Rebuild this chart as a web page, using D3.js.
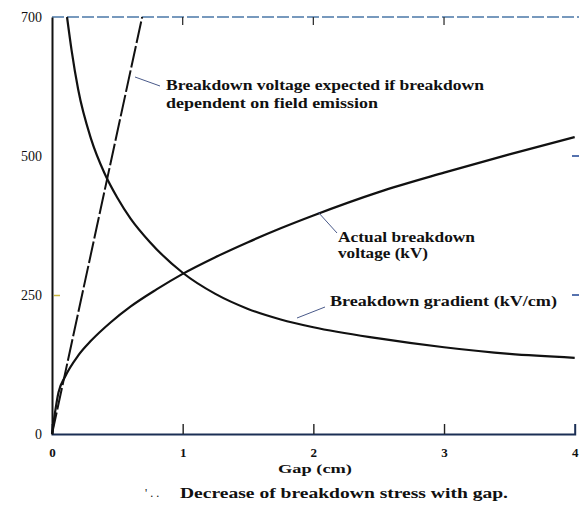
<!DOCTYPE html>
<html>
<head>
<meta charset="utf-8">
<script src="https://cdn.jsdelivr.net/npm/d3@7"></script>
<style>
  body { margin: 0; background: #fff; }
  svg { display: block; }
  text { font-family: "Liberation Serif", "DejaVu Serif", serif; fill: #111; }
</style>
</head>
<body>
<div class="chart"></div>
<script>
// values
const gapTicks = [0, 1, 2, 3, 4]
const yTicks = [0, 250, 500, 750]
const yTickLabels = ["0", "250", "500", "700"]

// actual breakdown voltage (kV) vs gap (cm)
const actualGap = [0, 0.05, 0.1, 0.2, 0.3, 0.45, 0.6, 0.8, 1, 1.25, 1.5, 1.75, 2, 2.5, 3, 3.5, 4]
const actualKV  = [0, 75, 103, 141, 168, 201, 229, 260, 288, 318, 345, 370, 393, 435, 470, 503, 534]

// breakdown gradient (kV/cm) vs gap (cm)
const gradGap = [0.115, 0.15, 0.2, 0.3, 0.4, 0.5, 0.6, 0.75, 1, 1.25, 1.5, 1.75, 2, 2.5, 3, 3.5, 4]
const gradKV  = [750, 690, 620, 530, 470, 425, 388, 345, 290, 252, 225, 206, 192, 172, 156, 144, 137]

// field emission expectation (straight line)
const fieldGap = [0, 0.69]
const fieldKV  = [0, 750]

const showChart = () => {
  let width = 579,
      height = 513

  const svg = d3.select(".chart")
    .append("svg")
    .attr("width", width)
    .attr("height", height)

  const x = d3.scaleLinear().domain([0, 4]).range([52, 574.7])
  const y = d3.scaleLinear().domain([0, 750]).range([434, 17])

  // frame: top (scan-faded dashes) and right with inward ticks
  svg.append("line")
    .attr("x1", x(0)).attr("x2", width)
    .attr("y1", y(750)).attr("y2", y(750))
    .attr("stroke", "#4b78a8").attr("stroke-width", 1.6)
    .attr("stroke-dasharray", "12,3")

  const top = svg.append("g").attr("transform", "translate(0," + y(750) + ")")
  top.selectAll("line")
    .data(gapTicks.slice(1, 4))
    .enter().append("line")
    .attr("x1", d => x(d)).attr("x2", d => x(d))
    .attr("y1", 0).attr("y2", 8)
    .attr("stroke", "#333").attr("stroke-width", 1.3)

  svg.selectAll(".rtick")
    .data([250, 500])
    .enter().append("line")
    .attr("x1", width - 7).attr("x2", width)
    .attr("y1", d => y(d)).attr("y2", d => y(d))
    .attr("stroke", "#2b4f9a").attr("stroke-width", 1.6)

  // bottom axis
  const xAxis = svg.append("g")
    .attr("transform", "translate(0," + y(0) + ")")
    .call(d3.axisBottom(x).tickValues(gapTicks).tickSize(-10).tickPadding(14)
      .tickFormat(d3.format("d")))
  xAxis.select(".domain").attr("stroke", "#1b2f55").attr("stroke-width", 2)
  xAxis.selectAll(".tick line").attr("stroke", "#222").attr("stroke-width", 1.4)
  xAxis.selectAll(".tick").filter(d => d === 0 || d === 4).select("line").remove()
  xAxis.selectAll("text")
    .style("font-family", "Liberation Serif").style("font-size", "13px")
    .style("font-weight", "bold").attr("fill", "#111")

  // left axis
  const yAxis = svg.append("g")
    .attr("transform", "translate(" + x(0) + ",0)")
    .call(d3.axisLeft(y).tickValues(yTicks).tickSize(0).tickPadding(10)
      .tickFormat((d, i) => yTickLabels[i]))
  yAxis.select(".domain").attr("stroke", "#111").attr("stroke-width", 2)
  yAxis.selectAll("text")
    .style("font-family", "Liberation Serif").style("font-size", "14px")
    .attr("fill", "#111")
  yAxis.selectAll(".tick")
    .append("line")
    .attr("x1", 2).attr("x2", 8)
    .attr("stroke", d => d === 250 ? "#c9b640" : "none").attr("stroke-width", 1.5)

  // curves
  const line = d3.line()
    .x(d => x(d[0]))
    .y(d => y(d[1]))
    .curve(d3.curveMonotoneX)

  svg.append("path")
    .datum(actualGap.map((g, i) => [g, actualKV[i]]))
    .attr("d", line)
    .attr("fill", "none").attr("stroke", "#111").attr("stroke-width", 2.2)

  svg.append("path")
    .datum(gradGap.map((g, i) => [g, gradKV[i]]))
    .attr("d", line)
    .attr("fill", "none").attr("stroke", "#111").attr("stroke-width", 2.2)

  svg.append("path")
    .datum(fieldGap.map((g, i) => [g, fieldKV[i]]))
    .attr("d", d3.line().x(d => x(d[0])).y(d => y(d[1])))
    .attr("fill", "none").attr("stroke", "#111").attr("stroke-width", 2)
    .attr("stroke-dasharray", "22,3")

  // annotations with leaders
  const leaders = [
    [135, 77, 160, 86],
    [318, 212, 337, 233],
    [297, 318, 325, 307]
  ]
  svg.selectAll(".leader")
    .data(leaders)
    .enter().append("line")
    .attr("x1", d => d[0]).attr("y1", d => d[1])
    .attr("x2", d => d[2]).attr("y2", d => d[3])
    .attr("stroke", "#4a5a8a").attr("stroke-width", 1)

  const notes = [
    ["Breakdown voltage expected if breakdown", 166, 90, 318],
    ["dependent on field emission", 166, 108, 212],
    ["Actual breakdown", 338, 242, 137],
    ["voltage (kV)", 338, 258, 90],
    ["Breakdown gradient (kV/cm)", 330, 306, 227]
  ]
  svg.selectAll(".note")
    .data(notes)
    .enter().append("text")
    .attr("x", d => d[1]).attr("y", d => d[2])
    .attr("textLength", d => d[3])
    .attr("lengthAdjust", "spacingAndGlyphs")
    .style("font-size", "14px").style("font-weight", "bold")
    .text(d => d[0])

  svg.append("text")
    .attr("x", 278).attr("y", 473)
    .attr("textLength", 74).attr("lengthAdjust", "spacingAndGlyphs")
    .style("font-size", "13px").style("font-weight", "bold")
    .text("Gap (cm)")

  svg.append("text")
    .attr("x", 145).attr("y", 497)
    .style("font-size", "12px").attr("fill", "#9aa")
    .text("' . .")

  svg.append("text")
    .attr("x", 180).attr("y", 498)
    .attr("textLength", 328).attr("lengthAdjust", "spacingAndGlyphs")
    .style("font-size", "15px").style("font-weight", "bold")
    .text("Decrease of breakdown stress with gap.")
}

showChart()
</script>
</body>
</html>
